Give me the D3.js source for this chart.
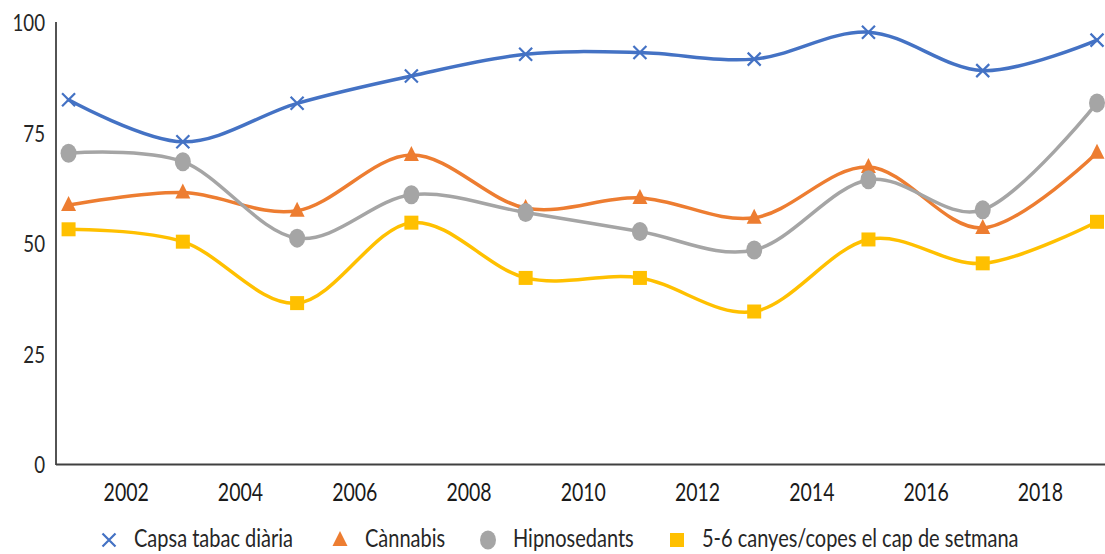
<!DOCTYPE html>
<html>
<head>
<meta charset="utf-8">
<script src="https://cdn.jsdelivr.net/npm/d3@7"></script>
<style>
  html, body { margin: 0; padding: 0; background: #fff; }
  svg { display: block; }
  text { font-family: Lato, "Open Sans", "DejaVu Sans", sans-serif; fill: #262626; }
</style>
</head>
<body>
<svg id="chart" width="1105" height="554"></svg>
<script>
// ---- data ----
const years = [2001, 2003, 2005, 2007, 2009, 2011, 2013, 2015, 2017, 2019];
const xTickLabels = [2002, 2004, 2006, 2008, 2010, 2012, 2014, 2016, 2018];
const yTickLabels = [0, 25, 50, 75, 100];
const seriesNames = ["Capsa tabac diària", "Cànnabis", "Hipnosedants", "5-6 canyes/copes el cap de setmana"];
const capsaTabac   = [82.4, 72.9, 81.6, 87.8, 92.7, 93.1, 91.6, 97.7, 89.0, 95.9];
const cannabis     = [58.6, 61.4, 57.3, 69.9, 57.9, 60.2, 55.7, 67.2, 53.4, 70.4];
const hipnosedants = [70.3, 68.4, 51.1, 60.9, 56.9, 52.6, 48.4, 64.3, 57.5, 81.7];
const canyesCopes  = [53.1, 50.3, 36.4, 54.6, 42.1, 42.1, 34.5, 50.8, 45.4, 54.8];

const colors = ["#4472C4", "#ED7D31", "#A5A5A5", "#FFC000"];
const markers = ["x", "triangle", "circle", "square"];
const allSeries = [capsaTabac, cannabis, hipnosedants, canyesCopes];

// ---- layout ----
const svg = d3.select("#chart");
const x = d3.scaleLinear().domain([2000.78, 2019.14]).range([56, 1105]);
const y = d3.scaleLinear().domain([0, 100]).range([464, 22]);

function label(g, tx, ty, str, anchor, size, sx) {
  return g.append("text")
    .attr("transform", `translate(${tx},${ty}) scale(${sx},1)`)
    .attr("text-anchor", anchor)
    .attr("dominant-baseline", "central")
    .style("font-size", size + "px")
    .text(str);
}

// y axis labels (via axis generator for positions)
const yAxis = d3.axisLeft(y).tickValues(yTickLabels).tickSize(0).tickFormat(d3.format("d"));
const gy = svg.append("g").attr("transform", "translate(56,0)").call(yAxis);
gy.select(".domain").remove();
gy.selectAll(".tick text").remove();
gy.selectAll(".tick").each(function(d) {
  label(d3.select(this), -11, 0, d, "end", 24, 0.78);
});

// x axis labels
const xAxis = d3.axisBottom(x).tickValues(xTickLabels).tickSize(0).tickFormat(d3.format("d"));
const gx = svg.append("g").attr("transform", "translate(0,464)").call(xAxis);
gx.select(".domain").remove();
gx.selectAll(".tick text").remove();
gx.selectAll(".tick").each(function(d) {
  label(d3.select(this), 0, 28, d, "middle", 25, 0.78).style("fill", "#1a1a1a");
});

// axis lines
svg.append("line").attr("x1", 56).attr("x2", 56).attr("y1", y(100)).attr("y2", y(0) + 1)
  .attr("stroke", "#1a1a1a").attr("stroke-width", 1.5);
svg.append("line").attr("x1", 56).attr("x2", 1105).attr("y1", y(0) + 0.5).attr("y2", y(0) + 0.5)
  .attr("stroke", "#404040").attr("stroke-width", 2.2);

// lines
const line = d3.line()
  .x((d, i) => x(years[i]))
  .y(d => y(d))
  .curve(d3.curveCardinal.tension(0));

function drawMarker(g, type, cx, cy, color) {
  if (type === "x") {
    const s = 6.5;
    g.append("path")
      .attr("d", `M${cx - s},${cy - s}L${cx + s},${cy + s}M${cx - s},${cy + s}L${cx + s},${cy - s}`)
      .attr("stroke", color).attr("stroke-width", 2.2).attr("fill", "none");
  } else if (type === "triangle") {
    g.append("path")
      .attr("d", `M${cx},${cy - 9}L${cx + 7.5},${cy + 6}L${cx - 7.5},${cy + 6}Z`)
      .attr("fill", color);
  } else if (type === "circle") {
    g.append("ellipse").attr("cx", cx).attr("cy", cy).attr("rx", 8).attr("ry", 9.5).attr("fill", color);
  } else {
    g.append("rect").attr("x", cx - 7).attr("y", cy - 7).attr("width", 14).attr("height", 14).attr("fill", color);
  }
}

allSeries.forEach((vals, si) => {
  const g = svg.append("g");
  g.append("path").datum(vals)
    .attr("d", line)
    .attr("fill", "none")
    .attr("stroke", colors[si])
    .attr("stroke-width", 3.5)
    .attr("stroke-linecap", "round");
  vals.forEach((v, i) => drawMarker(g, markers[si], x(years[i]), y(v), colors[si]));
});

// legend
const legY = 538;
const legMarkerX = [109, 340, 488, 677];
const lg = svg.append("g");
seriesNames.forEach((name, i) => {
  drawMarker(lg, markers[i], legMarkerX[i], legY + 2, colors[i]);
  label(lg, legMarkerX[i] + 25, legY, name, "start", 25, 0.8);
});
</script>
</body>
</html>
